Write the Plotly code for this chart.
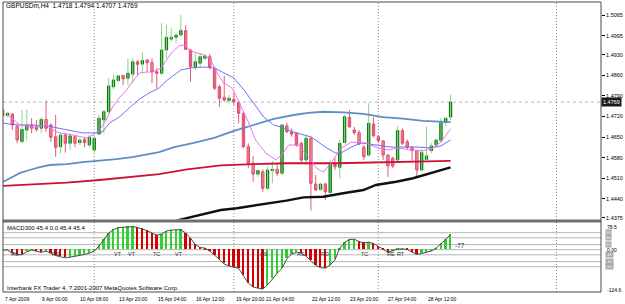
import plotly.graph_objects as go

# ---------------- data ----------------
symbol_text = "GBPUSDm,H4  1.4718 1.4794 1.4707 1.4769"
indicator_text = "MACD300 45.4 0.0 45.4 45.4"
footer_text = "Interbank FX Trader 4, ? 2001-2007 MetaQuotes Software Corp."

opens = [1.4742,1.4723,1.4728,1.4687,1.4634,1.4674,1.4691,1.4683,1.4680,1.4710,
         1.4691,1.4651,1.4617,1.4657,1.4629,1.4651,1.4631,1.4642,1.4623,1.4606,
         1.4660,1.4708,1.4736,1.4821,1.4842,1.4859,1.4850,1.4864,1.4906,1.4898,
         1.4912,1.4903,1.4872,1.4867,1.4946,1.4983,1.4989,1.4997,1.5012,1.4946,
         1.4887,1.4901,1.4918,1.4923,1.4884,1.4821,1.4785,1.4774,1.4778,1.4767,
         1.4731,1.4617,1.4561,1.4524,1.4532,1.4476,1.4536,1.4540,1.4527,1.4688,
         1.4668,1.4663,1.4629,1.4572,1.4646,1.4490,1.4472,1.4490,1.4461,1.4557,
         1.4547,1.4631,1.4717,1.4674,1.4665,1.4615,1.4589,1.4694,1.4651,1.4637,
         1.4589,1.4578,1.4572,1.4672,1.4634,1.4615,1.4604,1.4538,1.4574,1.4604,
         1.4623,1.4638,1.4699,1.4718]
highs = [1.4749,1.4736,1.4731,1.4691,1.4742,1.4744,1.4714,1.4708,1.4717,1.4774,
         1.4697,1.4725,1.4665,1.4665,1.4663,1.4657,1.4646,1.4651,1.4657,1.4657,
         1.4725,1.4742,1.4850,1.4861,1.4861,1.4861,1.4918,1.4918,1.4912,1.4940,
         1.4914,1.4918,1.4884,1.5037,1.5031,1.5020,1.5003,1.5065,1.5031,1.4948,
         1.4935,1.4935,1.4932,1.4932,1.4889,1.4827,1.4858,1.4793,1.4801,1.4774,
         1.4736,1.4629,1.4586,1.4540,1.4540,1.4549,1.4569,1.4558,1.4694,1.4699,
         1.4680,1.4665,1.4634,1.4657,1.4651,1.4521,1.4495,1.4495,1.4572,1.4578,
         1.4642,1.4725,1.4742,1.4685,1.4674,1.4623,1.4765,1.4717,1.4657,1.4640,
         1.4592,1.4583,1.4688,1.4680,1.4642,1.4620,1.4606,1.4608,1.4685,1.4629,
         1.4642,1.4714,1.4717,1.4794]
lows = [1.4718,1.4719,1.4674,1.4629,1.4631,1.4638,1.4663,1.4668,1.4663,1.4668,
        1.4634,1.4583,1.4595,1.4597,1.4606,1.4615,1.4623,1.4615,1.4617,1.4597,
        1.4657,1.4663,1.4731,1.4812,1.4838,1.4827,1.4827,1.4833,1.4861,1.4867,
        1.4872,1.4833,1.4816,1.4861,1.4918,1.4974,1.4969,1.4991,1.4946,1.4838,
        1.4878,1.4889,1.4912,1.4880,1.4810,1.4753,1.4770,1.4765,1.4759,1.4697,
        1.4612,1.4544,1.4498,1.4515,1.4464,1.4470,1.4493,1.4518,1.4521,1.4663,
        1.4651,1.4617,1.4561,1.4555,1.4400,1.4468,1.4468,1.4436,1.4459,1.4538,
        1.4510,1.4629,1.4680,1.4657,1.4623,1.4572,1.4583,1.4649,1.4629,1.4572,
        1.4515,1.4544,1.4570,1.4623,1.4608,1.4570,1.4515,1.4532,1.4572,1.4595,
        1.4617,1.4631,1.4685,1.4707]
closes = [1.4722,1.4731,1.4691,1.4640,1.4676,1.4691,1.4680,1.4676,1.4710,1.4680,
          1.4649,1.4615,1.4657,1.4629,1.4654,1.4629,1.4640,1.4631,1.4649,1.4646,
          1.4714,1.4736,1.4824,1.4844,1.4858,1.4848,1.4867,1.4906,1.4897,1.4910,
          1.4903,1.4872,1.4867,1.4946,1.4989,1.4989,1.4997,1.5012,1.4948,1.4889,
          1.4906,1.4923,1.4926,1.4889,1.4816,1.4782,1.4776,1.4782,1.4770,1.4731,
          1.4617,1.4561,1.4524,1.4536,1.4476,1.4538,1.4540,1.4527,1.4691,1.4668,
          1.4660,1.4623,1.4572,1.4646,1.4493,1.4470,1.4490,1.4464,1.4558,1.4549,
          1.4629,1.4719,1.4685,1.4665,1.4626,1.4583,1.4697,1.4654,1.4638,1.4589,
          1.4552,1.4552,1.4672,1.4629,1.4615,1.4604,1.4538,1.4597,1.4586,1.4620,
          1.4640,1.4699,1.4714,1.4769]

# moving averages (bar index, price)
ma_fast_x = [1,3.6,6.3,9.2,10.4,11.8,14.5,17.4,18.7,20.1,21.5,22.8,24.2,25.7,26.9,28.4,29.8,31.1,
             32.9,35.0,36.6,37.7,38.7,39.7,41.8,43.2,44.5,45.9,47.6,48.6,50.1,51.1,52.5,54.6,56.7,
             57.9,59.4,61.4,63.5,65.1,66.6,68.2,70.3,72.4,75.3,77.9,80.0,82.1,84.8,87.2,89.3,91.0,93.0]
ma_fast_y = [1.4725,1.4691,1.4684,1.4691,1.4674,1.4664,1.4657,1.4647,1.4657,1.4674,1.4708,1.4752,
             1.4783,1.4810,1.4837,1.4868,1.4871,1.4871,1.4885,1.4936,1.4960,1.4963,1.4949,1.4939,
             1.4929,1.4912,1.4868,1.4834,1.4817,1.4786,1.4732,1.4698,1.4640,1.4596,1.4572,1.4589,
             1.4623,1.4623,1.4582,1.4545,1.4531,1.4562,1.4613,1.4633,1.4630,1.4613,1.4606,1.4613,
             1.4606,1.4603,1.4613,1.4633,1.4677]
ma_mid_x = [0,1.5,3.6,6.3,9.2,11.2,13.9,16.6,19.5,20.7,22.2,24.2,26.3,28.4,30.4,32.5,34.2,37.0,
            39.1,41.8,43.9,45.9,48.0,50.1,52.1,54.2,56.3,58.3,60.4,62.5,64.1,67.0,69.1,70.3,72.4,
            74.4,76.5,78.6,80.6,83.5,86.2,88.9,91.0,93.0]
ma_mid_y = [1.4698,1.4694,1.4691,1.4691,1.4688,1.4681,1.4671,1.4664,1.4664,1.4667,1.4698,1.4718,
            1.4749,1.4779,1.4800,1.4817,1.4844,1.4878,1.4885,1.4888,1.4885,1.4868,1.4851,1.4810,
            1.4766,1.4718,1.4691,1.4681,1.4667,1.4657,1.4650,1.4616,1.4596,1.4596,1.4616,1.4630,
            1.4626,1.4620,1.4616,1.4616,1.4616,1.4613,1.4620,1.4640]
ma_slow_x = [0,1.5,3.6,5.6,7.7,9.8,13.3,16.6,20.1,23.6,26.9,32.5,35.6,39.7,43.9,48.0,52.1,56.3,
             60.4,63.5,66.6,70.7,74.9,79.0,83.1,87.3,93.0]
ma_slow_y = [1.4497,1.4511,1.4528,1.4538,1.4548,1.4555,1.4558,1.4565,1.4569,1.4575,1.4582,1.4599,
             1.4616,1.4630,1.4647,1.4671,1.4691,1.4712,1.4725,1.4732,1.4736,1.4734,1.4729,1.4718,
             1.4713,1.4705,1.4701]
ma_red_x = [0,6.3,13.3,20.1,26.9,32.5,38.3,45.3,52.1,58.9,69.3,76.3,83.1,93.0]
ma_red_y = [1.4484,1.4489,1.4495,1.4504,1.4515,1.4524,1.4540,1.4554,1.4558,1.4561,1.4561,1.4563,
            1.4564,1.4569]
ma_black_x = [35.8,41.8,45.3,48.6,52.1,55.6,58.9,62.5,66.6,70.7,74.9,77.5,81.7,85.2,88.7,93.0]
ma_black_y = [1.4365,1.4388,1.4402,1.4408,1.4416,1.4425,1.4434,1.4445,1.4447,1.4459,1.4470,1.4487,
              1.4498,1.4510,1.4527,1.4547]

macd = [-1,-1,-10,-14,-15,-6,-1,-4,-8,-4,-11,-17,-21,-24,-22,-20,-18,-14,-10,-4,
        11,29,49,59,65,66,67,68,65,61,56,49,43,46,55,58,58,59,49,34,
        15,6,5,-4,-16,-30,-42,-48,-51,-55,-77,-98,-110,-114,-116,-104,-86,-69,-55,-27,
        -13,-8,-10,-19,-33,-46,-53,-54,-45,-30,5,21,30,31,24,20,22,18,9,2,
        -8,-4,2,2,1,-7,-14,-11,-8,-4,5,17,30,45.4]
macd_levels = [50, 35, 15, 0, -15, -35, -50]
macd_labels = [("RS", 2.6), ("RS", 11.1), ("VT", 24.0), ("VT", 26.8), ("TC", 31.9), ("VT", 36.7),
               ("AS", 54.2), ("AS", 62.0), ("RD", 66.9), ("TC", 75.2), ("RE", 80.7), ("RT", 82.7)]

price_ticks = [1.5065, 1.4995, 1.4930, 1.4860, 1.4790, 1.4720, 1.4650, 1.4580, 1.4510, 1.4440, 1.4375]
last_price = 1.4769
time_labels = ["7 Apr 2009", "9 Apr 00:00", "10 Apr 08:00", "13 Apr 20:00", "15 Apr 04:00",
               "16 Apr 12:00", "19 Apr 20:00", "21 Apr 04:00", "22 Apr 12:00", "23 Apr 20:00",
               "27 Apr 04:00", "28 Apr 12:00"]
time_label_bars = [0.08, 7.7, 15.6, 23.8, 31.9, 39.7, 48.0, 54.2, 63.9, 71.8, 79.6, 87.9]
week_separators = [19, 48, 78, 115]

# ---------------- figure ----------------
FONT = "Liberation Sans"
idx = list(range(len(opens)))

fig = go.Figure()

# wicks
for bull, col in [(True, "#8fd08f"), (False, "#e35a7a")]:
    xs, ys = [], []
    for i in idx:
        if (closes[i] >= opens[i]) == bull:
            xs += [i, i, None]
            ys += [lows[i], highs[i], None]
    fig.add_trace(go.Scatter(x=xs, y=ys, mode="lines", line=dict(color=col, width=1),
                             hoverinfo="skip", yaxis="y"))

# moving averages
fig.add_trace(go.Scatter(x=ma_slow_x, y=ma_slow_y, mode="lines", line=dict(color="#5b8fc6", width=1.8), yaxis="y"))
fig.add_trace(go.Scatter(x=ma_red_x, y=ma_red_y, mode="lines", line=dict(color="#cc1138", width=1.8), yaxis="y"))
fig.add_trace(go.Scatter(x=ma_black_x, y=ma_black_y, mode="lines", line=dict(color="#111111", width=2.4), yaxis="y"))
fig.add_trace(go.Scatter(x=ma_mid_x, y=ma_mid_y, mode="lines", line=dict(color="#7070ee", width=1), yaxis="y"))
fig.add_trace(go.Scatter(x=ma_fast_x, y=ma_fast_y, mode="lines", line=dict(color="#f070f0", width=1), yaxis="y"))

# bodies
body_hi = [max(o, c) for o, c in zip(opens, closes)]
body_lo = [min(o, c) for o, c in zip(opens, closes)]
fig.add_trace(go.Candlestick(
    x=idx, open=opens, high=body_hi, low=body_lo, close=closes,
    increasing=dict(line=dict(color="#087a08", width=1), fillcolor="#0a820a"),
    decreasing=dict(line=dict(color="#e0406a", width=1), fillcolor="#f7c6b0"),
    whiskerwidth=0, yaxis="y", hoverinfo="skip"))

# MACD histogram
bar_cols = ["#33cc33" if (i == 0 or macd[i] >= macd[i - 1]) else "#d40000" for i in idx]
fig.add_trace(go.Bar(x=idx, y=macd, marker=dict(color=bar_cols, line=dict(width=0)),
                     width=0.38, yaxis="y2", hoverinfo="skip"))
fig.add_trace(go.Scatter(x=idx, y=macd, mode="lines", line=dict(color="#4a4a4a", width=1),
                         yaxis="y2", hoverinfo="skip"))

main_dom = [0.25, 1.0]
ind_dom = [0.0, 0.2397]

fig.update_layout(
    width=625, height=304,
    margin=dict(l=3, r=21, t=2, b=12),
    paper_bgcolor="white", plot_bgcolor="white",
    showlegend=False, bargap=0,
    font=dict(family=FONT, size=6, color="#000"),
    xaxis=dict(range=[0.062, 124.24], showticklabels=False, showgrid=False, zeroline=False,
               rangeslider=dict(visible=False), anchor="y2", showline=False),
    yaxis=dict(domain=main_dom, range=[1.43697, 1.51092], side="right", anchor="x",
               tickvals=price_ticks, ticktext=[f"{v:.4f}" for v in price_ticks],
               ticks="outside", ticklen=3, tickcolor="#000", tickwidth=1,
               tickfont=dict(size=5.5, family=FONT, color="#000"),
               showgrid=False, zeroline=False, showline=False),
    yaxis2=dict(domain=ind_dom, range=[-124.5, 80.1], side="right", anchor="x",
                showticklabels=False, showgrid=False, zeroline=False, ticks=""),
)

shapes = []
# level lines
for lv in macd_levels:
    shapes.append(dict(type="line", xref="paper", x0=0, x1=1, yref="y2", y0=lv, y1=lv,
                       line=dict(color="#b4b4b4", width=1), layer="below"))
# current price line
shapes.append(dict(type="line", xref="paper", x0=0, x1=1, yref="y", y0=last_price, y1=last_price,
                   line=dict(color="#b8b8b8", width=1, dash="dot"), layer="below"))
# week separators
for s in week_separators:
    shapes.append(dict(type="line", xref="x", x0=s, x1=s, yref="paper", y0=0, y1=1,
                       line=dict(color="#8c8c8c", width=1, dash="1px,2px"), layer="below"))
# panel separator and frame
shapes.append(dict(type="rect", xref="paper", x0=0, x1=1, yref="paper", y0=0.2397, y1=0.25,
                   fillcolor="#707070", line=dict(width=0)))
shapes.append(dict(type="rect", xref="paper", x0=0, x1=1, yref="paper", y0=0, y1=1,
                   line=dict(color="#4a4a4a", width=1), fillcolor="rgba(0,0,0,0)"))
fig.update_layout(shapes=shapes)

ann = []
ann.append(dict(text=symbol_text, xref="paper", yref="paper", x=0.002, y=0.987, xanchor="left",
                yanchor="middle", showarrow=False, font=dict(size=6.5, color="#000")))
ann.append(dict(text=indicator_text, xref="paper", yref="paper", x=0.004, y=0.219, xanchor="left",
                yanchor="middle", showarrow=False, font=dict(size=6, color="#000")))
ann.append(dict(text=footer_text, xref="paper", yref="paper", x=0.004, y=0.015, xanchor="left",
                yanchor="middle", showarrow=False, font=dict(size=6, color="#000")))
for t, b in zip(time_labels, time_label_bars):
    ann.append(dict(text=t, xref="x", yref="paper", x=b, y=-0.024, xanchor="left", yanchor="middle",
                    showarrow=False, font=dict(size=5, color="#000")))
for t, b in macd_labels:
    ann.append(dict(text=t, xref="x", yref="y2", x=b, y=-12, xanchor="center", yanchor="middle",
                    showarrow=False, font=dict(size=5.5, color="#333")))
ann.append(dict(text="-77", xref="x", yref="y2", x=93.6, y=11, xanchor="left", yanchor="middle",
                showarrow=False, font=dict(size=6.5, color="#222")))
# price box for last price
ann.append(dict(text=f"{last_price:.4f}", xref="paper", yref="y", x=1.0, y=last_price, xanchor="left",
                yanchor="middle", showarrow=False, bgcolor="#1a1a1a", borderpad=1,
                font=dict(size=5.5, color="#fff")))
# indicator scale labels
for t, v in [("78.5", 66.8), ("0.00", 0), ("-124.6", -118.5)]:
    ann.append(dict(text=t, xref="paper", yref="y2", x=1.006, y=v, xanchor="left", yanchor="middle",
                    showarrow=False, font=dict(size=5, color="#000")))
for lv in [50, 35, 15, -15, -35, -50]:
    ann.append(dict(text=str(lv), xref="paper", yref="y2", x=1.006, y=lv, xanchor="left",
                    yanchor="middle", showarrow=False, bgcolor="#a8a8a8",
                    font=dict(size=4, color="#fff"), borderpad=0))
fig.update_layout(annotations=ann)

fig.write_html("out.html")
